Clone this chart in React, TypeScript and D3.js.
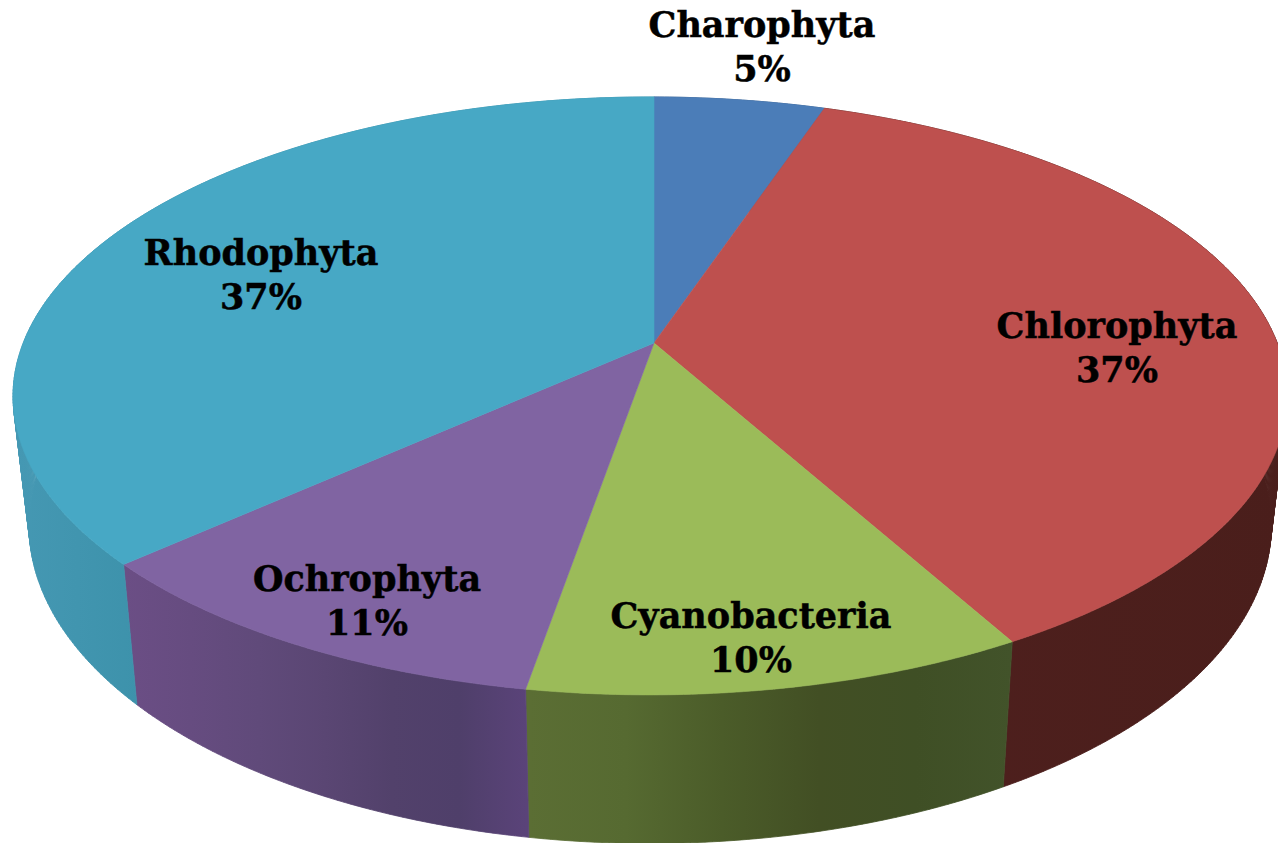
import React from "react";
import * as d3 from "d3";

const categories = ["Charophyta", "Chlorophyta", "Cyanobacteria", "Ochrophyta", "Rhodophyta"];
// slice sizes, the printed labels are rounded
const sliceValues = [5.15, 36.8, 10.75, 10.6, 36.7];
const percentLabels = ["5%", "37%", "10%", "11%", "37%"];
const topColors = ["#4b7db8", "#be504e", "#9bbb59", "#8064a2", "#47a8c5"];
const sideStops = [
  ["#3a5f8c", "#3a5f8c"],
  ["#4f201e", "#4a1e1b"],
  ["#5b6e34", "#566a31", "#4b5c29", "#424f24", "#3f4f25", "#42532a"],
  ["#6b4e85", "#664c80", "#604a7a", "#5a4673", "#52416b", "#4f3f6a", "#5a4379"],
  ["#4598b3", "#4195af", "#3d92ab"],
];

const width = 1278;
const height = 843;

// perspective of the disc
const apex = { x: 654, y: 343 };
const spreadX = 627;
const spreadY = 289.6;
const tilt = 0.177;
const lean = 0.006;
const drop = 126;
const dropGrow = 0.064;
const shrink = 0.975;

// label centres, x and the first baseline
const labelX = [762, 1117, 751, 367, 261];
const labelY = [37, 338, 628, 591, 265];
const lineGap = 44;

function rimTop(a: number) {
  const X = Math.sin(a);
  const Y = -Math.cos(a);
  const w = 1 - tilt * Y + lean * X;
  return { x: apex.x + (spreadX * X) / w, y: apex.y + (spreadY * Y) / w };
}

function rimBottom(a: number) {
  const p = rimTop(a);
  return {
    x: apex.x + shrink * (p.x - apex.x),
    y: p.y + drop + dropGrow * (p.y - apex.y),
  };
}

function sampleAngles(start: number, end: number) {
  const n = Math.ceil((end - start) / 0.01);
  return d3.range(n + 1).map((i) => start + ((end - start) * i) / n);
}

const toPath = d3
  .line<{ x: number; y: number }>()
  .x((d) => d.x)
  .y((d) => d.y);

export default function App() {
  const slices = d3
    .pie<number>()
    .sort(null)
    .startAngle(0)
    .endAngle(2 * Math.PI)(sliceValues);

  const parts = slices.map((s) => {
    const angles = sampleAngles(s.startAngle, s.endAngle);
    const upper = angles.map(rimTop);
    const lower = angles.map(rimBottom);
    // one small quad per step, so the silhouette between both rims gets filled too
    const strips = d3
      .pairs(angles)
      .map(([a, b]) => toPath([rimTop(a), rimTop(b), rimBottom(b), rimBottom(a)]) + "Z")
      .join("");
    return {
      top: toPath([apex, ...upper]) + "Z",
      side: strips,
      x0: d3.min(lower, (d) => d.x) as number,
      x1: d3.max(upper, (d) => d.x) as number,
    };
  });

  return (
    <svg
      width={width}
      height={height}
      style={{ position: "absolute", left: 0, top: 0, background: "#fff" }}
    >
      <defs>
        {parts.map((p, i) => {
          const stops = sideStops[i];
          // visible part of the rim only, so the gradient runs over the front
          const from = i === 4 ? 14 : i === 3 ? 125 : p.x0;
          const to = i === 4 ? 140 : p.x1;
          return (
            <linearGradient
              key={i}
              id={`side${i}`}
              gradientUnits="userSpaceOnUse"
              x1={from}
              x2={to}
              y1={0}
              y2={0}
            >
              {stops.map((c, j) => (
                <stop key={j} offset={j / (stops.length - 1)} stopColor={c} />
              ))}
            </linearGradient>
          );
        })}
      </defs>

      {parts.map((p, i) => (
        <path
          key={i}
          d={p.side}
          fill={`url(#side${i})`}
          stroke={`url(#side${i})`}
          strokeWidth={0.8}
        />
      ))}
      {parts.map((p, i) => (
        <path key={i} d={p.top} fill={topColors[i]} stroke={topColors[i]} strokeWidth={0.6} />
      ))}

      {categories.map((name, i) => (
        <g
          key={name}
          textAnchor="middle"
          fontFamily="'DejaVu Serif', serif"
          fontWeight="bold"
          fontSize={35}
          fill="#000"
          stroke="#000"
          strokeWidth={0.5}
        >
          <text x={labelX[i]} y={labelY[i]}>
            {name}
          </text>
          <text x={labelX[i]} y={labelY[i] + lineGap}>
            {percentLabels[i]}
          </text>
        </g>
      ))}
    </svg>
  );
}
